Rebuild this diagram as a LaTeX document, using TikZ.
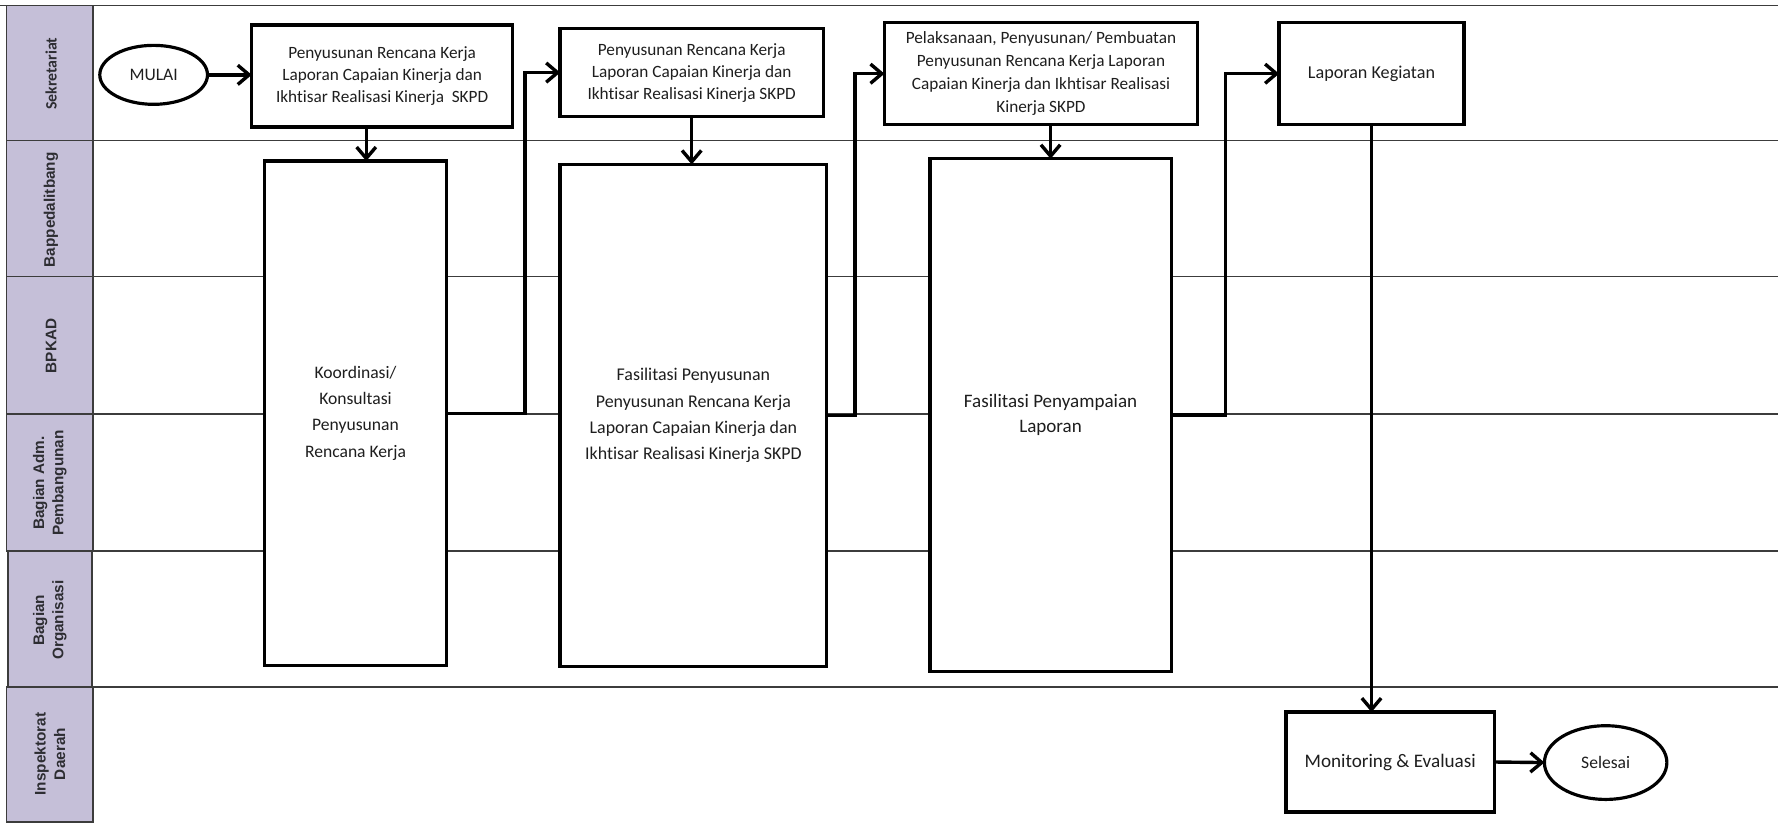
\documentclass[tikz,border=0pt]{standalone}
\usepackage{fontspec}
\setmainfont{Carlito}[Ligatures=NoCommon]
\newfontfamily\lanefont{Liberation Sans}
\newfontfamily\lanefontb{Carlito}
\usetikzlibrary{arrows.meta,shapes.geometric,calc}
\definecolor{lanebg}{RGB}{197,191,216}
\definecolor{laneline}{RGB}{60,60,60}
\definecolor{lanetxt}{RGB}{45,45,50}
\definecolor{boxtxt}{RGB}{30,30,30}
\newcommand{\fsz}[2]{\fontsize{#1}{#2}\selectfont}
\begin{document}
\begin{tikzpicture}[x=1pt,y=-1pt,
  proc/.style={draw, line width=3pt, rectangle, inner sep=2pt, outer sep=0pt, align=center,
               text=boxtxt, font=\fsz{15.2}{19.4}},
  term/.style={draw, line width=2.8pt, ellipse, inner sep=0pt, outer sep=0pt,
               text=boxtxt, font=\fsz{15.5}{20}},
  arr/.style={line width=3pt, -{Straight Barb[length=10pt,width=17pt,line width=3pt]}},
  lanecell/.style={draw=laneline, line width=1.2pt, fill=lanebg},
  lanetext/.style={rotate=90, align=center, text=lanetxt, font=\lanefont\bfseries\fsz{13.5}{17}},
  laneline/.style={draw=laneline, line width=1.2pt}
]
\useasboundingbox (0,0) rectangle (1568,725);

% lane label column
\path[lanecell] (6,5) rectangle (82,124);
\path[lanecell] (6,124) rectangle (82,244);
\path[lanecell] (6,244) rectangle (82,365);
\path[lanecell] (6,365) rectangle (82,486);
\path[lanecell] (7,486) rectangle (81,606);
\path[lanecell] (6,606) rectangle (82,725);
\node[lanetext, font=\lanefontb\bfseries\fsz{14}{17}] (l1) at (45,65) {Sekretariat};
\node[lanetext] (l2) at (45,185) {Bappedalitbang};
\node[lanetext] (l3) at (45,305) {BPKAD};
\node[lanetext] (l4) at (44,426) {Bagian Adm.\\Pembangunan};
\node[lanetext] (l5) at (44,547) {Bagian\\Organisasi};
\node[lanetext] (l6) at (44,665) {Inspektorat\\Daerah};

% lane lines
\draw[laneline] (0,5) -- (1568,5);
\draw[laneline] (82,124) -- (1568,124);
\draw[laneline] (82,244) -- (1568,244);
\draw[laneline] (82,365) -- (1568,365);
\draw[laneline] (82,486) -- (1568,486);
\draw[laneline] (82,606) -- (1568,606);

% nodes
\node[term, minimum width=95pt, minimum height=52pt] (mulai) at (135.5,66) {MULAI};
\node[proc, minimum width=230pt, minimum height=90pt] (b1) at (337,67)
  {Penyusunan Rencana Kerja\\Laporan Capaian Kinerja dan\\Ikhtisar Realisasi Kinerja\ \ SKPD};
\node[proc, fill=white, minimum width=161pt, minimum height=445pt, font=\fsz{15.5}{23}] (b2) at (313.5,364.5)
  {Koordinasi/\\Konsultasi\\Penyusunan\\Rencana Kerja};
\node[proc, minimum width=232pt, minimum height=78pt] (b3) at (610,64)
  {Penyusunan Rencana Kerja\\Laporan Capaian Kinerja dan\\Ikhtisar Realisasi Kinerja SKPD};
\node[proc, fill=white, minimum width=235pt, minimum height=443pt, font=\fsz{15.8}{23.3}] (b4) at (611.5,366.5)
  {Fasilitasi Penyusunan\\Penyusunan Rencana Kerja\\Laporan Capaian Kinerja dan\\Ikhtisar Realisasi Kinerja SKPD};
\node[proc, minimum width=276pt, minimum height=90pt, font=\fsz{15.2}{20.3}] (b5) at (918,65)
  {Pelaksanaan, Penyusunan/ Pembuatan\\Penyusunan Rencana Kerja Laporan\\Capaian Kinerja dan Ikhtisar Realisasi\\Kinerja SKPD};
\node[proc, fill=white, minimum width=213pt, minimum height=452pt, font=\fsz{16.8}{22}] (b6) at (926.5,366)
  {Fasilitasi Penyampaian\\Laporan};
\node[proc, minimum width=163pt, minimum height=90pt, font=\fsz{16}{20}] (b7) at (1209.5,65) {Laporan Kegiatan};
\node[proc, minimum width=184pt, minimum height=88pt, font=\fsz{16.9}{20}] (b8) at (1226,672) {Monitoring \& Evaluasi};
\node[term, minimum width=108pt, minimum height=65pt] (selesai) at (1416,672.5) {Selesai};

% connectors
\draw[arr] (mulai.east) -- (mulai.east -| b1.west);
\draw[arr] ([xshift=-14pt]b1.south) -- ([xshift=-14pt]b1.south |- b2.north);
\draw[arr] (b2.east) -- ++(69,0) |- (b3.west);
\draw[arr] (b3.south) -- (b3.south |- b4.north);
\draw[arr] (b4.east) -- ++(25,0) |- (b5.west);
\draw[arr] (b6.north |- b5.south) -- (b6.north);
\draw[arr] (b6.east) -- ++(48,0) |- (b7.west);
\draw[arr] (b7.south) -- (b7.south |- b8.north);
\draw[arr] (b8.east) -- (selesai.west);
\end{tikzpicture}
\end{document}
